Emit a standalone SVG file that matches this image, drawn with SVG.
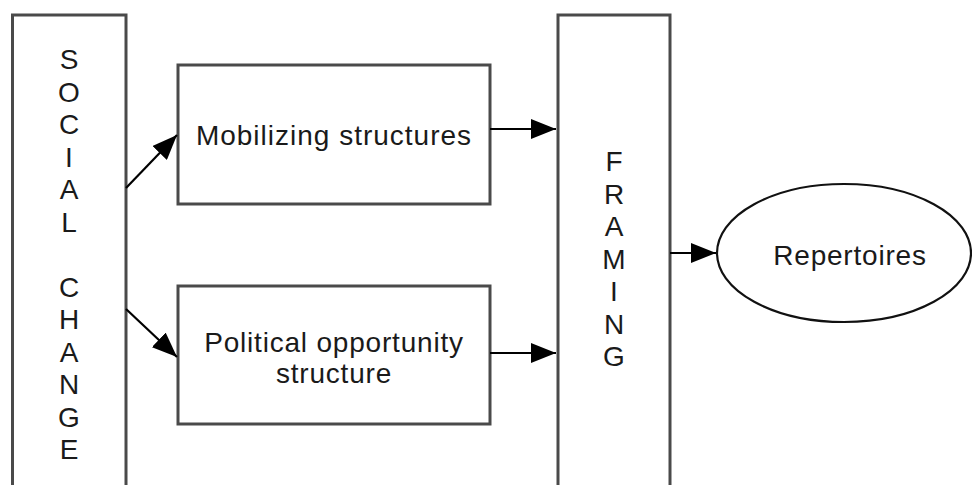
<svg xmlns="http://www.w3.org/2000/svg" width="972" height="485" viewBox="0 0 972 485">
<defs>
<style>
.box{fill:#fff;stroke:#4a4a4a;stroke-width:3}
.t{font-family:"Liberation Sans",Arial,Helvetica,sans-serif;font-size:28px;fill:#1a1a1a;text-anchor:middle}
.v{font-family:"Liberation Sans",Arial,Helvetica,sans-serif;font-size:28px;fill:#1a1a1a;text-anchor:middle}
.c{stroke:#000;stroke-width:2.2;fill:none}
</style>
<marker id="ah" viewBox="0 0 25 20" refX="25" refY="10" markerWidth="25" markerHeight="20" markerUnits="userSpaceOnUse" orient="auto">
<path d="M0,0 L25,10 L0,20 Z" fill="#000"/>
</marker>
</defs>
<rect width="972" height="485" fill="#fff"/>
<g id="social-change">
<rect class="box" x="12.5" y="15" width="113.5" height="480"/>
<text class="v"><tspan x="69" y="69">S</tspan><tspan x="69" y="101.5">O</tspan><tspan x="69" y="134">C</tspan><tspan x="69" y="166.5">I</tspan><tspan x="69" y="199">A</tspan><tspan x="69" y="231.5">L</tspan><tspan x="69" y="296.5">C</tspan><tspan x="69" y="329">H</tspan><tspan x="69" y="361.5">A</tspan><tspan x="69" y="394">N</tspan><tspan x="69" y="426.5">G</tspan><tspan x="69" y="459">E</tspan></text>
</g>
<g id="mobilizing">
<rect class="box" x="178" y="65" width="312" height="139"/>
<text class="t" x="334" y="145" letter-spacing="1">Mobilizing structures</text>
</g>
<g id="political">
<rect class="box" x="178" y="286" width="312" height="138"/>
<text class="t" x="334" y="352" letter-spacing="0.8">Political opportunity</text>
<text class="t" x="334" y="383" letter-spacing="0.8">structure</text>
</g>
<g id="framing">
<rect class="box" x="558" y="15" width="112" height="480"/>
<text class="v"><tspan x="614" y="171">F</tspan><tspan x="614" y="203.5">R</tspan><tspan x="614" y="236">A</tspan><tspan x="614" y="268.5">M</tspan><tspan x="614" y="301">I</tspan><tspan x="614" y="333.5">N</tspan><tspan x="614" y="366">G</tspan></text>
</g>
<g id="repertoires">
<ellipse cx="844" cy="253" rx="127" ry="69" fill="#fff" stroke="#111" stroke-width="2.2"/>
<text class="t" x="850" y="265" letter-spacing="0.8">Repertoires</text>
</g>
<g id="connectors">
<line class="c" x1="126" y1="188" x2="177" y2="135" marker-end="url(#ah)"/>
<line class="c" x1="126" y1="309" x2="177" y2="357" marker-end="url(#ah)"/>
<line class="c" x1="490" y1="129" x2="556" y2="129" marker-end="url(#ah)"/>
<line class="c" x1="490" y1="353" x2="556" y2="353" marker-end="url(#ah)"/>
<line class="c" x1="670" y1="253" x2="716" y2="253" marker-end="url(#ah)"/>
</g>
</svg>
